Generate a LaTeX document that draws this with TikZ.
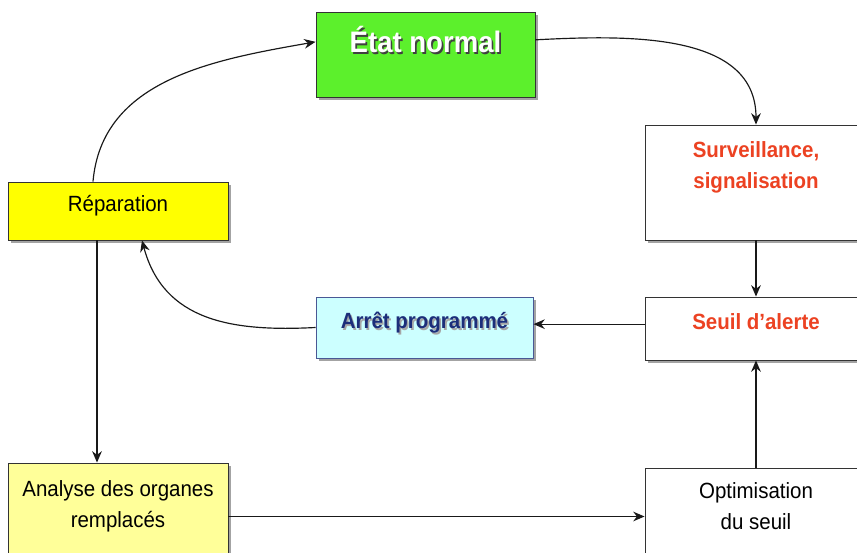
\documentclass[tikz,border=0pt]{standalone}
\usepackage{fontspec}
\setmainfont[FakeStretch=0.93]{Liberation Sans}
\usepackage{xcolor}
\usepackage{tikz}
\usetikzlibrary{positioning, arrows.meta, shadows}
\definecolor{etatgreen}{RGB}{92,240,44}
\definecolor{repyellow}{RGB}{255,255,0}
\definecolor{anayellow}{RGB}{255,255,153}
\definecolor{arretcyan}{RGB}{204,255,255}
\definecolor{alertred}{RGB}{236,66,34}
\definecolor{arretblue}{RGB}{28,46,122}
\newcommand{\txtshadow}[2]{\makebox[0pt][l]{\hspace{1.4pt}\raisebox{-1.4pt}{\textcolor{#1}{#2}}}#2}

\begin{document}
\begin{tikzpicture}[
    >={Stealth[length=3.4mm, width=2.9mm]},
    flow/.style={->, line width=1pt, black!90},
    stage/.style={draw=black!80, fill=#1, line width=0.8pt, minimum width=6.6cm, align=center,
        inner sep=0pt, font=\fontsize{18.8}{26.5}\selectfont,
        drop shadow={shadow xshift=0.08cm, shadow yshift=-0.08cm, fill=black!60, opacity=0.6}},
    stage/.default=white,
    alert/.style={stage, font=\fontsize{18.8}{26.5}\selectfont\bfseries, text=alertred}
]
\useasboundingbox (0,0) rectangle (25.71,16.56);

\node[stage=etatgreen, minimum width=6.57cm, minimum height=2.55cm, text height=0.8cm, text depth=0.92cm,
    font=\fontsize{25.3}{30}\selectfont\bfseries, text=white] (etat) at (12.765,14.925) {\txtshadow{black!75}{État normal}};
\node[alert, minimum width=6.66cm, minimum height=3.45cm, text depth=1.07cm] (surv) at (22.68,11.085) {Surveillance,\\signalisation};
\node[alert, minimum width=6.66cm, minimum height=1.89cm, text height=0.5cm, text depth=0.42cm] (seuil) at (22.68,6.705) {Seuil d’alerte};
\node[stage, minimum width=6.66cm, minimum height=3.06cm, text depth=0.8cm] (opt) at (22.68,0.99) {Optimisation\\du seuil};
\node[stage=repyellow, minimum height=1.74cm, text height=0.5cm, text depth=0.45cm] (rep) at (3.54,10.23) {Réparation};
\node[stage=arretcyan, draw=arretblue!80, minimum width=6.51cm, minimum height=1.83cm, text height=0.5cm, text depth=0.41cm,
    font=\fontsize{18.8}{26.5}\selectfont\bfseries, text=arretblue] (arret) at (12.735,6.735) {\txtshadow{black!35}{Arrêt programmé}};
\node[stage=anayellow, minimum height=3.21cm, text depth=0.74cm] (ana) at (3.54,1.065) {Analyse des organes\\remplacés};

\draw[flow] ([xshift=-0.75cm]rep.north) to[out=85, in=190] ([yshift=0.38cm]etat.west);
\draw[flow] ([yshift=0.44cm]etat.east) to[out=3, in=90] (surv.north);
\draw[flow] (surv) -- (seuil);
\draw[flow] ([yshift=0.13cm]seuil.west) -- ([yshift=0.1cm]arret.east);
\draw[flow] (arret.west) to[out=183, in=-75, looseness=1.1] ([xshift=0.72cm]rep.south);
\draw[flow] ([xshift=-0.63cm]rep.south) -- ([xshift=-0.63cm]ana.north);
\draw[flow] (ana.east) -- (ana.east -| opt.west);
\draw[flow] (opt) -- (seuil);

\end{tikzpicture}
\end{document}
